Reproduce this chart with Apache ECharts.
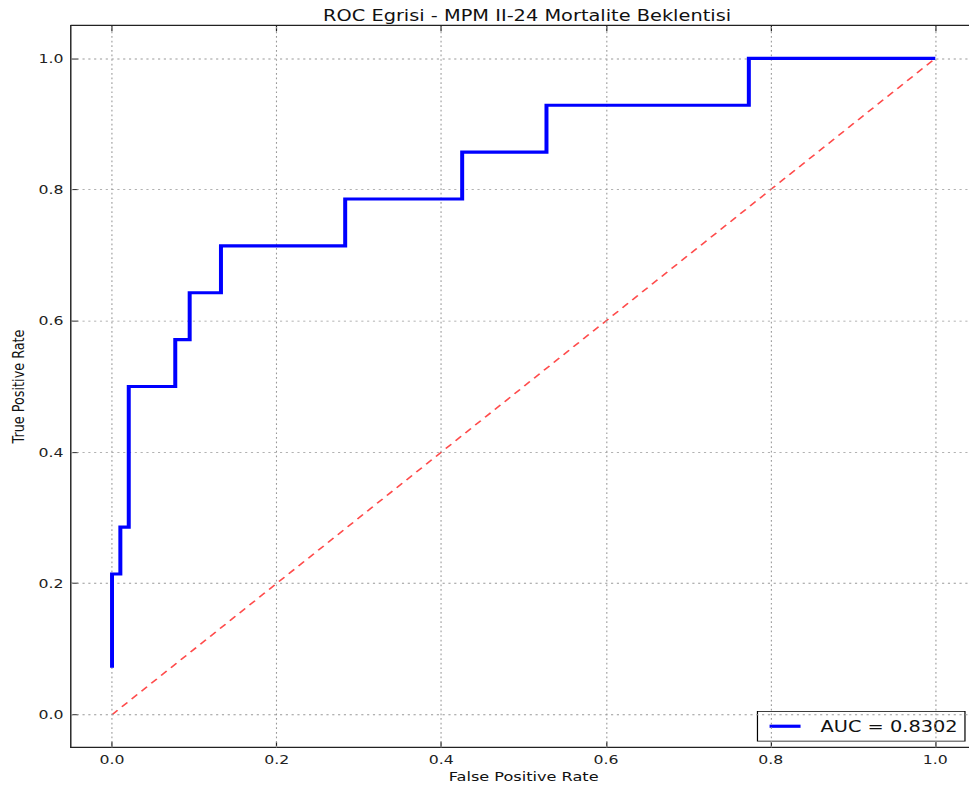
<!DOCTYPE html>
<html>
<head>
<meta charset="utf-8">
<script src="https://cdn.jsdelivr.net/npm/echarts@6/dist/echarts.min.js"></script>
<style>
  html, body { margin: 0; padding: 0; background: #fff; overflow: hidden; }
  #frame { width: 969px; height: 794px; overflow: hidden; position: relative; }
  /* the figure is laid out at its native size and stretched to the frame */
  #chart { width: 807px; height: 827px; transform: scale(1.21, 0.96); transform-origin: 0 0; }
</style>
</head>
<body>
<div id="frame"><div id="chart"></div></div>
<script>
// ROC curve points (corner points of the step curve)
const fpr = [0, 0, 0.0101, 0.0101, 0.0203, 0.0203, 0.0768, 0.0768, 0.0943, 0.0943,
             0.1323, 0.1323, 0.2832, 0.2832, 0.4253, 0.4253, 0.5277, 0.5277, 0.7735, 0.7735, 1.0];
const tpr = [0.0714, 0.2143, 0.2143, 0.2857, 0.2857, 0.5, 0.5, 0.5714, 0.5714, 0.6429,
             0.6429, 0.7143, 0.7143, 0.7857, 0.7857, 0.8571, 0.8571, 0.9286, 0.9286, 1.0, 1.0];
// chance diagonal
const diagX = [0, 1];
const diagY = [0, 1];
// tick values on both axes
const ticks = [0, 0.2, 0.4, 0.6, 0.8, 1.0];
const aucLabel = 'AUC = 0.8302';
const titleText = 'ROC Egrisi - MPM II-24 Mortalite Beklentisi';

const font = 'DejaVu Sans';
const axisColor = '#222';
const gridColor = '#999';

function valueAxis(extra) {
  return Object.assign({
    type: 'value',
    min: -0.05,
    max: 1.05,
    axisLine: { show: true, onZero: false, lineStyle: { color: axisColor, width: 1.2 } },
    axisTick: { show: true, inside: true, length: 6, customValues: ticks, lineStyle: { color: axisColor, width: 1 } },
    axisLabel: {
      customValues: ticks,
      margin: 6,
      formatter: v => v.toFixed(1),
      fontFamily: font, fontSize: 13, color: '#222'
    },
    splitLine: { show: false }
  }, extra);
}

const el = document.getElementById('chart');
const chart = echarts.init(el, null, { renderer: 'svg', width: 807, height: 827 });
chart.setOption({
  backgroundColor: '#fff',
  animation: false,
  title: {
    text: titleText,
    left: 430.6, top: 3, textAlign: 'center',
    textStyle: { fontFamily: font, fontSize: 16, fontWeight: 'normal', color: '#111' }
  },
  grid: { left: 57.9, top: 26.6, right: 0, bottom: 48.4, containLabel: false },
  legend: {
    data: [aucLabel],
    right: 9.5, bottom: 55,
    orient: 'vertical',
    icon: 'rect',
    itemWidth: 25.6, itemHeight: 3.3,
    padding: [6.5, 6, 6.5, 10],
    borderColor: '#000', borderWidth: 1,
    borderRadius: 0,
    backgroundColor: '#fff',
    textStyle: { fontFamily: font, fontSize: 16, lineHeight: 18, color: '#111', padding: [0, 0, 0, 11.5] }
  },
  xAxis: [
    valueAxis({
      position: 'bottom',
      name: 'False Positive Rate', nameLocation: 'middle', nameGap: 23,
      nameTextStyle: { fontFamily: font, fontSize: 13.33, color: '#111' }
    }),
    valueAxis({ position: 'top', axisLabel: { show: false } })
  ],
  yAxis: [
    valueAxis({
      position: 'left',
      name: 'True Positive Rate', nameLocation: 'middle', nameGap: 35,
      nameTextStyle: { fontFamily: font, fontSize: 13.33, color: '#111' }
    })
  ],
  series: [
    {
      // dotted grid at the tick positions
      type: 'line', data: [], silent: true,
      markLine: {
        silent: true, symbol: 'none', label: { show: false },
        lineStyle: { color: gridColor, type: [1.8, 3], width: 0.9 },
        data: ticks.map(t => ({ xAxis: t })).concat(ticks.map(t => ({ yAxis: t })))
      }
    },
    {
      type: 'line',
      data: diagX.map((x, i) => [x, diagY[i]]),
      showSymbol: false, symbol: 'none',
      lineStyle: { color: 'rgba(255,30,30,0.8)', width: 1.5, type: [6.5, 5] },
      silent: true
    },
    {
      name: aucLabel,
      type: 'line',
      data: fpr.map((x, i) => [x, tpr[i]]),
      showSymbol: false, symbol: 'none',
      itemStyle: { color: '#0000ff' },
      lineStyle: { color: '#0000ff', width: 3.3, join: 'miter' },
      z: 5
    }
  ]
});
</script>
</body>
</html>
